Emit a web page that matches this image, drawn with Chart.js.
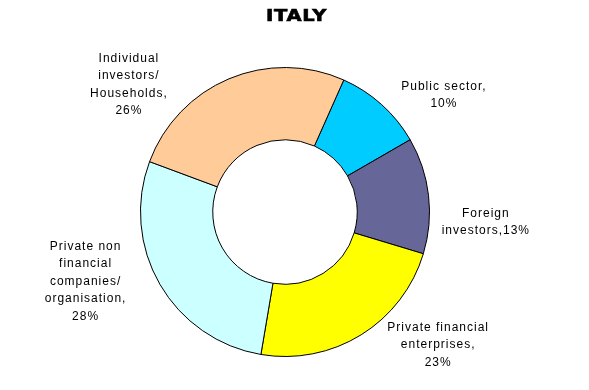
<!DOCTYPE html>
<html>
<head>
<meta charset="utf-8">
<title>Italy</title>
<script src="https://cdn.jsdelivr.net/npm/chart.js@4.4.1/dist/chart.umd.min.js"></script>
<style>
  html, body { margin: 0; padding: 0; background: #fff; }
  #wrap { width: 589px; height: 390px; position: relative; }
</style>
</head>
<body>
<div id="wrap"><canvas id="pieChart" width="589" height="390"></canvas></div>
<script>
/* ── Data ─────────────────────────────────────────────── */
const chartTitle = 'ITALY';
const sectors = [
  'Public sector',
  'Foreign investors',
  'Private financial enterprises',
  'Private non financial companies/organisation',
  'Individual investors/Households'
];
const shares = [10, 13, 23, 28, 26];
const labelLines = [
  ['Public sector,', '10%'],
  ['Foreign', 'investors,13%'],
  ['Private financial', 'enterprises,', '23%'],
  ['Private non', 'financial', 'companies/', 'organisation,', '28%'],
  ['Individual', 'investors/', 'Households,', '26%']
];

/* ── Styles / layout ──────────────────────────────────── */
const sliceColors = ['#00ccff', '#666699', '#ffff00', '#ccffff', '#ffcc99'];
/* label centre, relative to the pie centre, in outer-radius units */
const labelOffsets = [
  [1.10, -0.81],
  [1.39, 0.07],
  [1.06, 0.92],
  [-1.38, 0.48],
  [-1.08, -0.88]
];

const labelPlugin = {
  id: 'sliceLabels',
  afterDraw(chart) {
    const ctx = chart.ctx;
    const arcs = chart.getDatasetMeta(0).data;
    ctx.save();
    ctx.fillStyle = '#000';
    ctx.strokeStyle = '#000';
    ctx.textAlign = 'center';
    ctx.textBaseline = 'middle';

    /* title — wide, heavy face */
    ctx.save();
    ctx.translate(chart.width / 2 + 2, 17);
    ctx.scale(1.3, 1);
    ctx.font = "bold 15px 'DejaVu Sans', sans-serif";
    ctx.letterSpacing = '0.5px';
    ctx.lineWidth = 0.6;
    ctx.fillText(chartTitle, 0, 0);
    ctx.strokeText(chartTitle, 0, 0);
    ctx.restore();

    ctx.font = "12px 'Liberation Sans', Arial, sans-serif";
    ctx.letterSpacing = '1px';
    arcs.forEach((arc, i) => {
      const r = arc.outerRadius;
      const cx = arc.x + labelOffsets[i][0] * r;
      const cy = arc.y + labelOffsets[i][1] * r;
      const lines = labelLines[i];
      const lh = 17.5;
      const top = cy - (lines.length - 1) * lh / 2;
      lines.forEach((t, j) => ctx.fillText(t, cx, top + j * lh));
    });
    ctx.restore();
  }
};

new Chart(document.getElementById('pieChart'), {
  type: 'doughnut',
  data: {
    labels: sectors,
    datasets: [{
      data: shares,
      backgroundColor: sliceColors,
      borderColor: '#000',
      borderWidth: 1
    }]
  },
  options: {
    responsive: false,
    animation: false,
    rotation: 24,
    cutout: '50%',
    layout: { padding: { left: 140, right: 159, top: 67, bottom: 33 } },
    plugins: {
      legend: { display: false },
      tooltip: { enabled: false },
      title: { display: false }
    }
  },
  plugins: [labelPlugin]
});
</script>
</body>
</html>
